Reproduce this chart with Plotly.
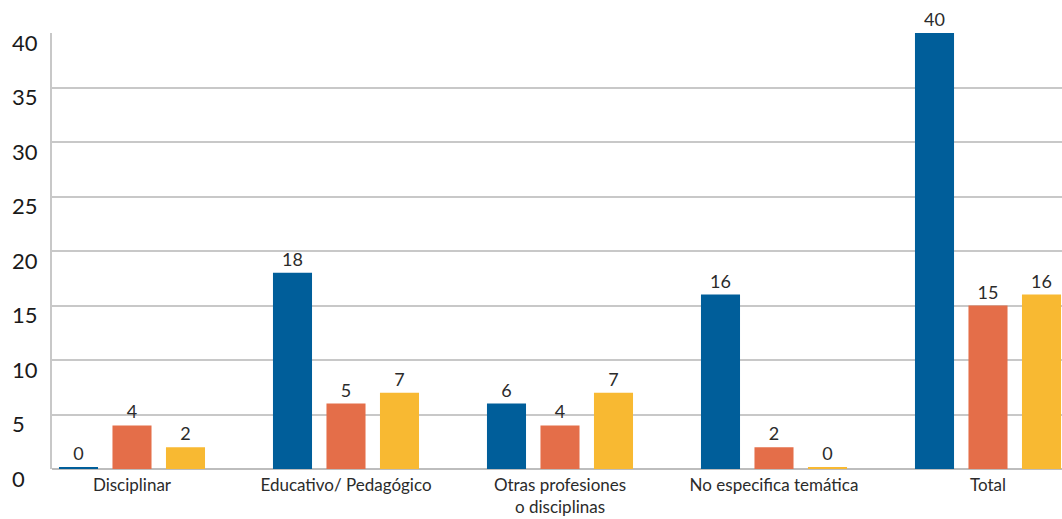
import plotly.graph_objects as go

categories = ["Disciplinar", "Educativo/ Pedagógico", "Otras profesiones<br>o disciplinas",
              "No especifica temática", "Total"]
# bar heights as drawn
serie_a = [0.15, 18, 6, 16, 40]
serie_b = [4, 6, 4, 2, 15]
serie_c = [2, 7, 7, 0.15, 16]
# printed value labels
labels_a = ["0", "18", "6", "16", "40"]
labels_b = ["4", "5", "4", "2", "15"]
labels_c = ["2", "7", "7", "0", "16"]
y_ticks = [0, 5, 10, 15, 20, 25, 30, 35, 40]

colors = ["#005E9A", "#E46E49", "#F8B932"]
FONT = "Lato"

fig = go.Figure()
for vals, labs, col in zip([serie_a, serie_b, serie_c], [labels_a, labels_b, labels_c], colors):
    fig.add_trace(go.Bar(
        x=categories, y=vals, text=labs, textposition="outside",
        marker=dict(color=col, line=dict(width=0)),
        textfont=dict(family=FONT, size=18, color="#2b2b2b"),
        cliponaxis=False, showlegend=False, hoverinfo="skip",
    ))

for t in y_ticks:
    fig.add_annotation(x=-0.0416, xref="paper", y=t, yref="y", yshift=-9,
                       text=str(t), showarrow=False, xanchor="left",
                       font=dict(family=FONT, size=22, color="#1a1a1a"))

fig.update_layout(
    width=1062, height=519,
    margin=dict(l=52, r=0, t=33, b=50, autoexpand=False),
    paper_bgcolor="white", plot_bgcolor="white",
    barmode="group", bargap=0.25, bargroupgap=0.27,
    xaxis=dict(type="category", range=[-0.3738, 4.3458], showgrid=False,
               showline=False, ticks="", zeroline=False, ticklabelstandoff=4,
               automargin=False,
               tickfont=dict(family=FONT, size=17, color="#2b2b2b")),
    yaxis=dict(range=[0, 40], tickvals=y_ticks, showticklabels=False,
               automargin=False,
               showgrid=True, gridcolor="#C8C8C8", gridwidth=1.5,
               zeroline=True, zerolinecolor="#BDBDBD", zerolinewidth=1.5,
               showline=True, linecolor="#C8C8C8", linewidth=1.5),
)

fig.write_html("out.html")
